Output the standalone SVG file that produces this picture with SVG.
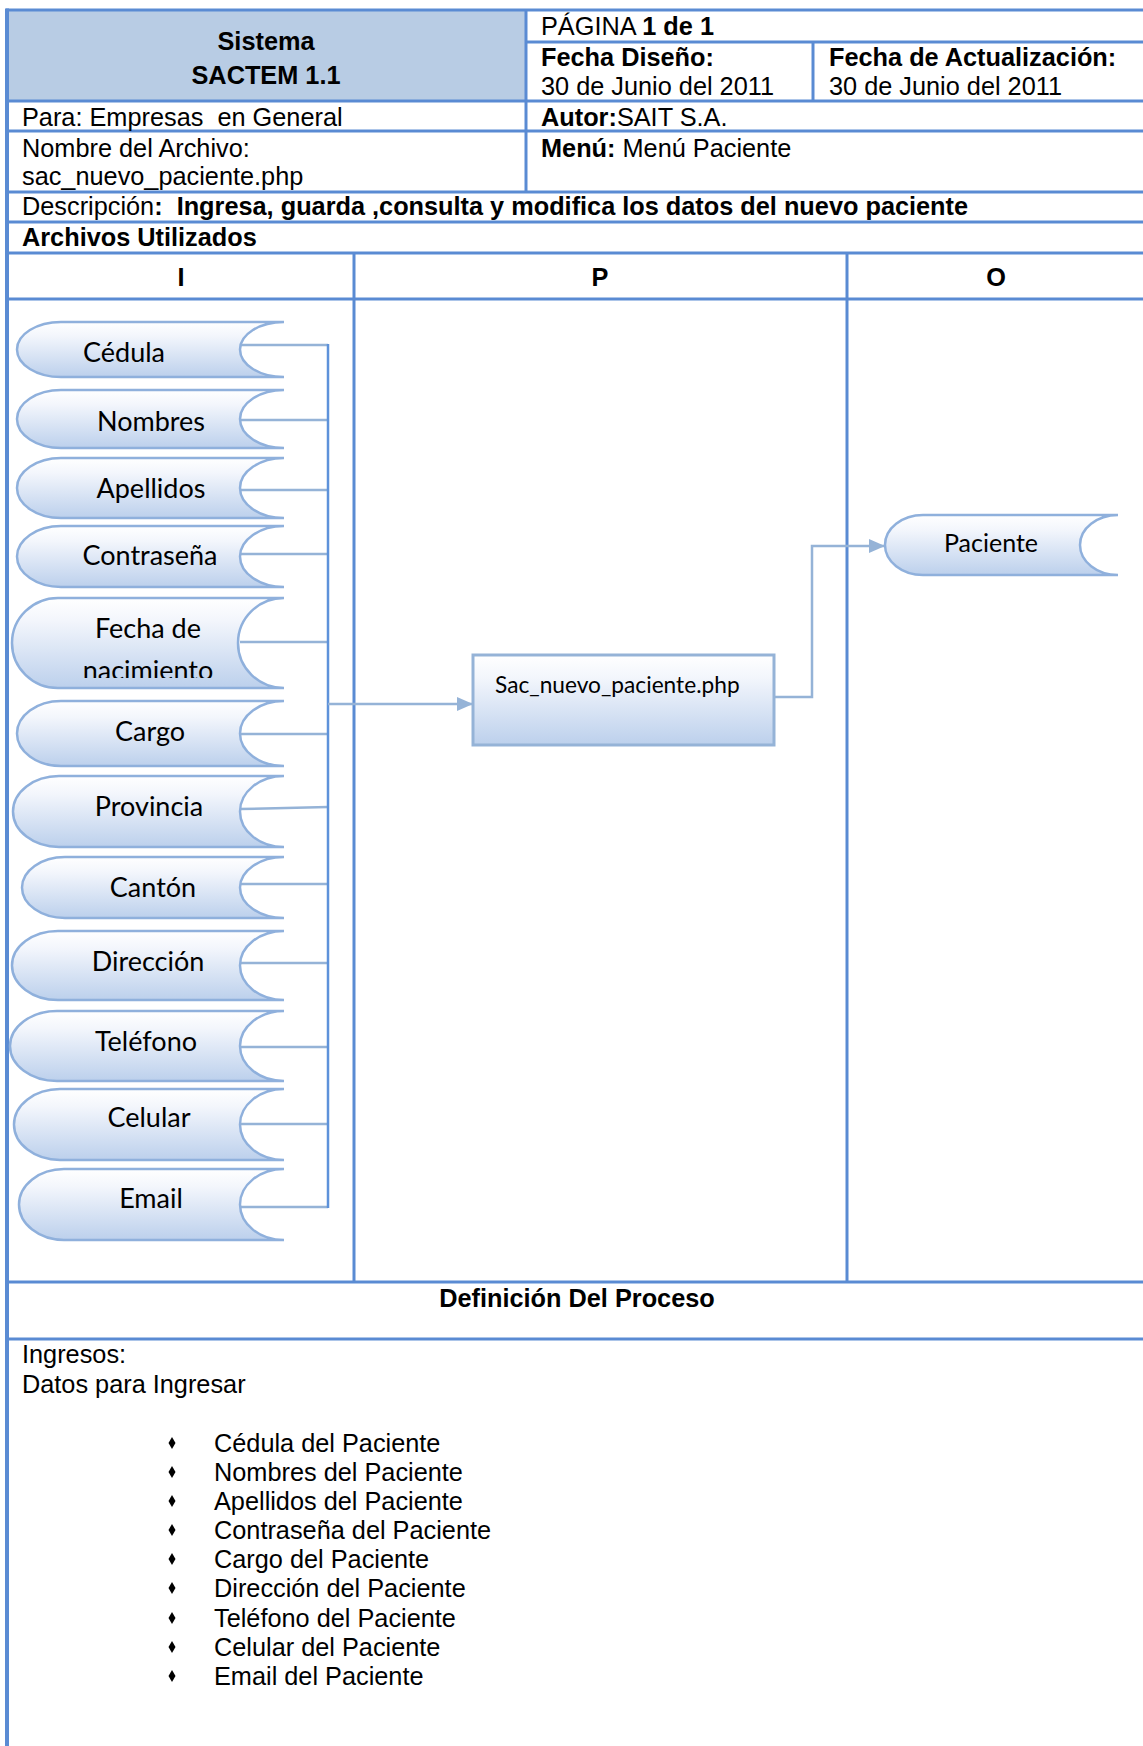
<svg xmlns="http://www.w3.org/2000/svg" width="1143" height="1746" viewBox="0 0 1143 1746">
<style>
.tl{stroke:#5a8bd3;stroke-width:3;fill:none}
.t{font-family:"Liberation Sans",Arial,sans-serif;font-size:25.3px;fill:#000;white-space:pre}
.b{font-weight:bold}
.c{text-anchor:middle}
.sh{fill:url(#g);stroke:#8fb0dc;stroke-width:2.5}
.lbl{font-family:Lato,"Noto Sans",sans-serif;font-size:27px;text-anchor:middle;fill:#000}
.cn{stroke:#95b3d7;stroke-width:2.5;fill:none}
.bus{stroke:#5e92da;stroke-width:2.5;fill:none}
.bul{fill:#000}
</style>
<defs>
<linearGradient id="g" x1="0" y1="0" x2="0" y2="1">
<stop offset="0" stop-color="#ffffff"/>
<stop offset="0.25" stop-color="#f3f6fc"/>
<stop offset="1" stop-color="#bcd0ec"/>
</linearGradient>
<marker id="ar" viewBox="0 0 16 14" refX="16" refY="7" markerWidth="16" markerHeight="14" markerUnits="userSpaceOnUse" orient="auto">
<path d="M0,0 L16,7 L0,14 Z" fill="#95b3d7"/>
</marker>
<clipPath id="clipF"><rect x="0" y="590" width="300" height="88"/></clipPath>
</defs>

<g id="table">
<rect x="8" y="10" width="518" height="91" fill="#b8cce4"/>
<line class="tl" x1="6" y1="10" x2="1143" y2="10"/>
<line class="tl" x1="526" y1="42" x2="1143" y2="42"/>
<line class="tl" x1="6" y1="101" x2="1143" y2="101"/>
<line class="tl" x1="6" y1="131" x2="1143" y2="131"/>
<line class="tl" x1="6" y1="192" x2="1143" y2="192"/>
<line class="tl" x1="6" y1="222" x2="1143" y2="222"/>
<line class="tl" x1="6" y1="253" x2="1143" y2="253"/>
<line class="tl" x1="6" y1="299" x2="1143" y2="299"/>
<line class="tl" x1="6" y1="1282" x2="1143" y2="1282"/>
<line class="tl" x1="6" y1="1339" x2="1143" y2="1339"/>
<line class="tl" x1="526" y1="10" x2="526" y2="192"/>
<line class="tl" x1="813" y1="42" x2="813" y2="101"/>
<line class="tl" x1="354" y1="253" x2="354" y2="1282"/>
<line class="tl" x1="847" y1="253" x2="847" y2="1282"/>
<line x1="7" y1="8.5" x2="7" y2="1746" stroke="#5a8bd3" stroke-width="4"/>
</g>

<g id="header-text">
<text class="t b c" x="266" y="50">Sistema</text>
<text class="t b c" x="266" y="84">SACTEM 1.1</text>
<text class="t" x="541" y="35">PÁGINA <tspan class="b">1 de 1</tspan></text>
<text class="t b" x="541" y="66">Fecha Diseño:</text>
<text class="t" x="541" y="95">30 de Junio del 2011</text>
<text class="t b" x="829" y="66">Fecha de Actualización:</text>
<text class="t" x="829" y="95">30 de Junio del 2011</text>
<text class="t" x="22" y="126" xml:space="preserve">Para: Empresas  en General</text>
<text class="t" x="541" y="126"><tspan class="b">Autor:</tspan>SAIT S.A.</text>
<text class="t" x="22" y="157">Nombre del Archivo:</text>
<text class="t" x="22" y="185">sac_nuevo_paciente.php</text>
<text class="t" x="541" y="157"><tspan class="b">Menú:</tspan> Menú Paciente</text>
<text class="t" x="22" y="215" xml:space="preserve">Descripción<tspan class="b">:  Ingresa, guarda ,consulta y modifica los datos del nuevo paciente</tspan></text>
<text class="t b" x="22" y="246">Archivos Utilizados</text>
<text class="t b c" x="181" y="286">I</text>
<text class="t b c" x="600" y="286">P</text>
<text class="t b c" x="996" y="286">O</text>
</g>

<g id="connectors">
<line class="cn" x1="240" y1="345" x2="328" y2="345"/>
<line class="cn" x1="240" y1="420" x2="328" y2="420"/>
<line class="cn" x1="240" y1="490" x2="328" y2="490"/>
<line class="cn" x1="240" y1="554" x2="328" y2="554"/>
<line class="cn" x1="240" y1="642" x2="328" y2="642"/>
<line class="cn" x1="240" y1="734" x2="328" y2="734"/>
<line class="cn" x1="240" y1="809" x2="328" y2="807"/>
<line class="cn" x1="240" y1="884" x2="328" y2="884"/>
<line class="cn" x1="240" y1="963" x2="328" y2="963"/>
<line class="cn" x1="240" y1="1047" x2="328" y2="1047"/>
<line class="cn" x1="240" y1="1124" x2="328" y2="1124"/>
<line class="cn" x1="240" y1="1207" x2="328" y2="1207"/>
<line class="bus" x1="328" y1="344" x2="328" y2="1208"/>
<line class="cn" x1="328" y1="704" x2="473" y2="704" marker-end="url(#ar)"/>
<polyline class="cn" points="774,697 812,697 812,546 885,546" marker-end="url(#ar)"/>
</g>

<g id="n-cedula">
<path class="sh" d="M284,322 L61,322 A44,27.5 0 0 0 61,377 L284,377 A44,27.5 0 0 1 284,322 Z"/>
<text class="lbl" x="124" y="362">Cédula</text>
</g>
<g id="n-nombres">
<path class="sh" d="M284,390 L61,390 A44,29 0 0 0 61,448 L284,448 A44,29 0 0 1 284,390 Z"/>
<text class="lbl" x="151" y="431">Nombres</text>
</g>
<g id="n-apellidos">
<path class="sh" d="M284,458 L61,458 A44,30 0 0 0 61,518 L284,518 A44,30 0 0 1 284,458 Z"/>
<text class="lbl" x="151" y="498">Apellidos</text>
</g>
<g id="n-contrasena">
<path class="sh" d="M284,526 L61,526 A44,30.5 0 0 0 61,587 L284,587 A44,30.5 0 0 1 284,526 Z"/>
<text class="lbl" x="150" y="565">Contraseña</text>
</g>
<g id="n-fecha">
<path class="sh" d="M284,598 L58,598 A46,45 0 0 0 58,688 L284,688 A46,45 0 0 1 284,598 Z"/>
<g clip-path="url(#clipF)">
<text class="lbl" x="148" y="638">Fecha de</text>
<text class="lbl" x="148" y="680">nacimiento</text>
</g>
</g>
<g id="n-cargo">
<path class="sh" d="M284,701 L61,701 A44,32.5 0 0 0 61,766 L284,766 A44,32.5 0 0 1 284,701 Z"/>
<text class="lbl" x="150" y="741">Cargo</text>
</g>
<g id="n-provincia">
<path class="sh" d="M284,776 L59,776 A46,35.5 0 0 0 59,847 L284,847 A44,35.5 0 0 1 284,776 Z"/>
<text class="lbl" x="149" y="816">Provincia</text>
</g>
<g id="n-canton">
<path class="sh" d="M284,857 L65,857 A43,30.5 0 0 0 65,918 L284,918 A44,30.5 0 0 1 284,857 Z"/>
<text class="lbl" x="153" y="897">Cantón</text>
</g>
<g id="n-direccion">
<path class="sh" d="M284,931 L58,931 A46,34.5 0 0 0 58,1000 L284,1000 A44,34.5 0 0 1 284,931 Z"/>
<text class="lbl" x="148" y="971">Dirección</text>
</g>
<g id="n-telefono">
<path class="sh" d="M284,1011 L57,1011 A47,35 0 0 0 57,1081 L284,1081 A44,35 0 0 1 284,1011 Z"/>
<text class="lbl" x="146" y="1051">Teléfono</text>
</g>
<g id="n-celular">
<path class="sh" d="M284,1089 L60,1089 A46,35.5 0 0 0 60,1160 L284,1160 A44,35.5 0 0 1 284,1089 Z"/>
<text class="lbl" x="149" y="1127">Celular</text>
</g>
<g id="n-email">
<path class="sh" d="M284,1169 L64,1169 A45,35.5 0 0 0 64,1240 L284,1240 A44,35.5 0 0 1 284,1169 Z"/>
<text class="lbl" x="151" y="1208">Email</text>
</g>

<g id="n-proceso">
<rect x="473" y="655" width="301" height="90" fill="url(#g)" stroke="#95b3d7" stroke-width="3"/>
<text x="495" y="693" font-family="Lato,'Noto Sans',sans-serif" font-size="22.7" fill="#000">Sac_nuevo_paciente.php</text>
</g>

<g id="n-paciente">
<path class="sh" d="M1118,515 L923,515 A38,30 0 0 0 923,575 L1118,575 A38,30 0 0 1 1118,515 Z"/>
<text class="lbl" x="991" y="552" style="font-size:25px">Paciente</text>
</g>

<g id="definicion">
<text class="t b c" x="577" y="1307">Definición Del Proceso</text>
<text class="t" x="22" y="1363">Ingresos:</text>
<text class="t" x="22" y="1393">Datos para Ingresar</text>
<g id="bullets" class="bul">
<polygon points="172,1437 175.5,1443 172,1449 168.5,1443"/>
<polygon points="172,1466 175.5,1472 172,1478 168.5,1472"/>
<polygon points="172,1495 175.5,1501 172,1507 168.5,1501"/>
<polygon points="172,1524 175.5,1530 172,1536 168.5,1530"/>
<polygon points="172,1553 175.5,1559 172,1565 168.5,1559"/>
<polygon points="172,1582 175.5,1588 172,1594 168.5,1588"/>
<polygon points="172,1612 175.5,1618 172,1624 168.5,1618"/>
<polygon points="172,1641 175.5,1647 172,1653 168.5,1647"/>
<polygon points="172,1670 175.5,1676 172,1682 168.5,1676"/>
</g>
<text class="t" x="214" y="1452">Cédula del Paciente</text>
<text class="t" x="214" y="1481">Nombres del Paciente</text>
<text class="t" x="214" y="1510">Apellidos del Paciente</text>
<text class="t" x="214" y="1539">Contraseña del Paciente</text>
<text class="t" x="214" y="1568">Cargo del Paciente</text>
<text class="t" x="214" y="1597">Dirección del Paciente</text>
<text class="t" x="214" y="1627">Teléfono del Paciente</text>
<text class="t" x="214" y="1656">Celular del Paciente</text>
<text class="t" x="214" y="1685">Email del Paciente</text>
</g>
</svg>
